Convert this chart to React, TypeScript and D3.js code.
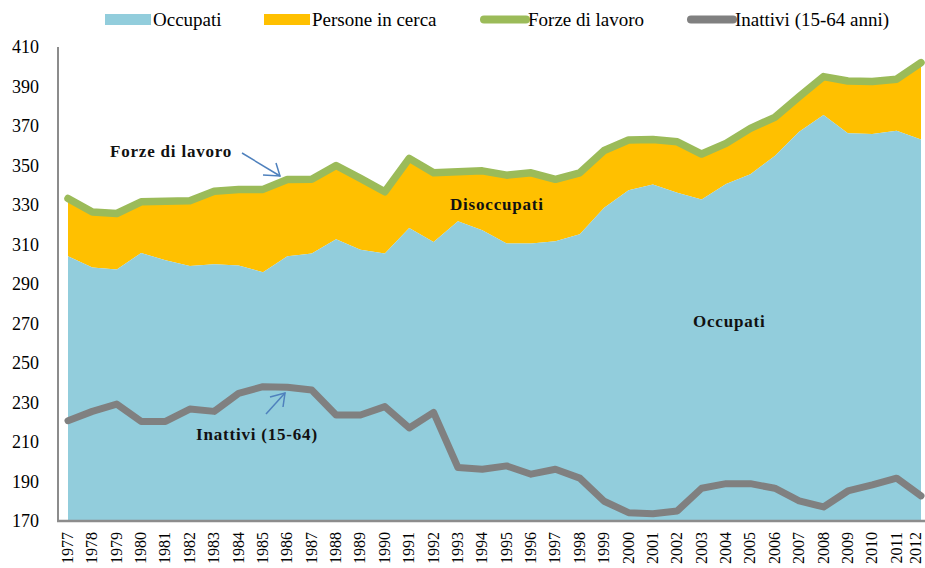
import React from "react";
import * as d3 from "d3";

const years = d3.range(1977, 2013).map(String);
const occupati = [304.0, 298.3, 297.3, 305.7, 302.0, 299.1, 300.0, 299.4, 296.0, 304.0, 305.4, 312.6, 307.4, 305.4, 318.4, 311.3, 321.8, 317.2, 310.5, 310.5, 311.6, 315.2, 328.6, 337.5, 340.4, 336.2, 332.8, 340.6, 345.6, 354.8, 367.1, 375.6, 366.3, 366.0, 367.6, 363.2];
const personeInCerca = [29.3, 28.2, 28.4, 25.9, 29.9, 33.0, 37.0, 38.5, 41.9, 38.9, 37.6, 37.4, 36.1, 31.3, 35.2, 35.0, 25.0, 30.1, 34.6, 35.8, 31.4, 31.1, 29.0, 25.4, 22.8, 25.8, 23.0, 20.6, 23.2, 19.6, 17.8, 19.4, 26.5, 26.5, 26.1, 38.9];
const inattivi = [220.8, 225.5, 229.2, 220.4, 220.4, 226.7, 225.5, 234.6, 238.0, 237.7, 236.3, 223.7, 223.7, 227.9, 217.1, 225.0, 197.1, 196.2, 197.9, 193.7, 196.2, 191.7, 180.0, 174.2, 173.7, 175.1, 186.6, 188.9, 188.9, 186.6, 180.2, 177.1, 185.2, 188.3, 191.7, 182.7];
const yTicks = d3.range(170, 411, 20);

const legendItems = [
  { label: "Occupati", color: "#92CDDC", kind: "rect", x: 105 },
  { label: "Persone in cerca", color: "#FFC000", kind: "rect", x: 264 },
  { label: "Forze di lavoro", color: "#9BBB59", kind: "line", x: 480 },
  { label: "Inattivi (15-64 anni)", color: "#808080", kind: "line", x: 687 },
];

export default function App() {
  const W = 925, H = 568;
  const x = d3.scalePoint<string>().domain(years).range([68, 921]);
  const y = d3.scaleLinear().domain([170, 410]).range([521, 47]);
  const rows = years.map((yr, i) => ({ year: yr, occ: occupati[i], pers: personeInCerca[i], inat: inattivi[i] }));
  const stack = d3.stack<any>().keys(["occ", "pers"]);
  const series = stack(rows);
  const areaOcc = d3.area<any>().x((d) => x(d.data.year)!).y0(y(170)).y1((d) => y(d[1]));
  const areaPers = d3.area<any>().x((d) => x(d.data.year)!).y0((d) => y(d[0])).y1((d) => y(d[1]));
  const lineTop = d3.line<any>().x((d) => x(d.data.year)!).y((d) => y(d[1]));
  const lineInat = d3.line<any>().x((d) => x(d.year)!).y((d) => y(d.inat));
  const font = "'Liberation Serif', 'Times New Roman', serif";
  const arrowColor = "#4F81BD";

  return (
    <svg width={W} height={H} style={{ position: "absolute", left: 0, top: 0, background: "#fff" }} fontFamily={font}>
      <rect width={W} height={H} fill="#fff" />
      {/* legend */}
      {legendItems.map((it) => (
        <g key={it.label}>
          {it.kind === "rect" ? (
            <rect x={it.x} y={14} width={46} height={11} fill={it.color} />
          ) : (
            <line x1={it.x + 4} x2={it.x + 46} y1={19.5} y2={19.5} stroke={it.color} strokeWidth={8} strokeLinecap="round" />
          )}
          <text x={it.x + 48} y={26} fontSize={19} fill="#000">{it.label}</text>
        </g>
      ))}
      {/* areas */}
      <path d={areaPers(series[1] as any) || ""} fill="#FFC000" />
      <path d={areaOcc(series[0] as any) || ""} fill="#92CDDC" />
      <path d={lineTop(series[1] as any) || ""} fill="none" stroke="#9BBB59" strokeWidth={7.5} strokeLinejoin="round" strokeLinecap="round" />
      <path d={lineInat(rows) || ""} fill="none" stroke="#808080" strokeWidth={7} strokeLinejoin="round" strokeLinecap="round" />
      {/* axes */}
      <line x1={58} x2={58} y1={47} y2={521} stroke="#8c8c8c" strokeWidth={2} />
      <line x1={57} x2={925} y1={521} y2={521} stroke="#8c8c8c" strokeWidth={2.5} />
      {yTicks.map((t) => (
        <text key={t} x={39} y={y(t) + 6} fontSize={18} textAnchor="end" fill="#000">{t}</text>
      ))}
      {years.map((yr) => (
        <text key={yr} transform={`translate(${Math.min(x(yr)! + 5, 921)},532) rotate(-90)`} fontSize={16} textAnchor="end" fill="#000">{yr}</text>
      ))}
      {/* annotations */}
      <text x={110} y={157} fontSize={17} fontWeight="bold" letterSpacing={0.8} fill="#111">Forze di lavoro</text>
      <text x={450} y={210} fontSize={17} fontWeight="bold" letterSpacing={0.8} fill="#111">Disoccupati</text>
      <text x={693} y={327} fontSize={17} fontWeight="bold" letterSpacing={0.8} fill="#111">Occupati</text>
      <text x={196} y={440} fontSize={17} fontWeight="bold" letterSpacing={0.8} fill="#111">Inattivi (15-64)</text>
      <g stroke={arrowColor} strokeWidth={1.5} fill="none">
        <line x1={242} y1={153} x2={280} y2={176} />
        <polyline points="263,175 280,176 276,163" />
        <line x1={266} y1={414} x2={285} y2={393} />
        <polyline points="270,397 285,393 283,407" />
      </g>
    </svg>
  );
}
